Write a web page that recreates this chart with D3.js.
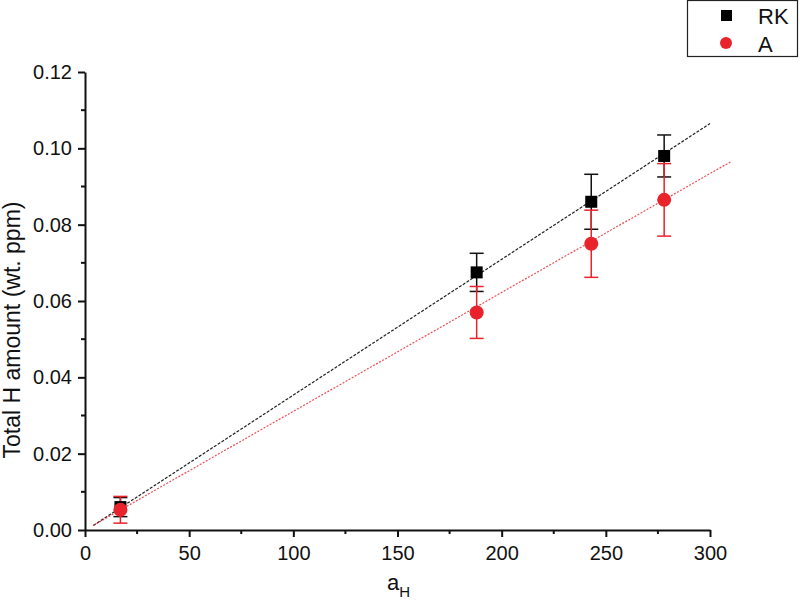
<!DOCTYPE html>
<html>
<head>
<meta charset="utf-8">
<script src="https://cdn.jsdelivr.net/npm/d3@7"></script>
<style>
body { margin: 0; background: #fff; }
text { font-family: "Liberation Sans", Arial, sans-serif; fill: #111; }
</style>
</head>
<body>
<script>
// data
var aH = [17, 188, 243, 278];
var rkVal = [0.0060, 0.0675, 0.0860, 0.0980];
var rkErr = [0.0025, 0.0050, 0.0072, 0.0055];
var aVal = [0.0053, 0.0570, 0.0750, 0.0865];
var aErr = [0.0035, 0.0068, 0.0088, 0.0095];
// fitted lines (end points)
var rkFitX = [4, 300], rkFitY = [0.0012, 0.1065];
var aFitX = [4, 310], aFitY = [0.0012, 0.0965];
var xTicks = [0, 50, 100, 150, 200, 250, 300];
var yTicks = [0, 0.02, 0.04, 0.06, 0.08, 0.10, 0.12];

var W = 800, H = 610;
var red = "#e8232b";

var svg = d3.select("body").append("svg")
  .attr("width", W)
  .attr("height", H);

var x = d3.scaleLinear().domain([0, 300]).range([85, 710]);
var y = d3.scaleLinear().domain([0, 0.12]).range([530, 72]);

// minor ticks
var xMinor = d3.range(25, 300, 50);
var yMinor = d3.range(0.01, 0.12, 0.02);

svg.append("g").selectAll("line").data(xMinor).join("line")
  .attr("x1", d => x(d)).attr("x2", d => x(d))
  .attr("y1", 530).attr("y2", 534)
  .attr("stroke", "#111").attr("stroke-width", 2);
svg.append("g").selectAll("line").data(yMinor).join("line")
  .attr("y1", d => y(d)).attr("y2", d => y(d))
  .attr("x1", 85).attr("x2", 81)
  .attr("stroke", "#111").attr("stroke-width", 2);

var xAxis = svg.append("g").attr("transform", "translate(0,530)")
  .call(d3.axisBottom(x).tickValues(xTicks).tickSize(7).tickPadding(5).tickSizeOuter(0));
var yAxis = svg.append("g").attr("transform", "translate(85,0)")
  .call(d3.axisLeft(y).tickValues(yTicks).tickFormat(d3.format(".2f")).tickSize(7).tickPadding(6).tickSizeOuter(0));

[xAxis, yAxis].forEach(function(g) {
  g.select(".domain").attr("stroke", "#111").attr("stroke-width", 2);
  g.selectAll(".tick line").attr("stroke", "#111").attr("stroke-width", 2);
  g.selectAll(".tick text").attr("font-size", 20).attr("fill", "#111")
    .style("font-family", "'Liberation Sans', Arial, sans-serif");
});
xAxis.selectAll(".tick text").attr("dy", "0.9em");

// axis titles
svg.append("text")
  .attr("transform", "translate(20,330) rotate(-90)")
  .attr("text-anchor", "middle")
  .attr("font-size", 23)
  .text("Total H amount (wt. ppm)");

var xt = svg.append("text")
  .attr("x", 387).attr("y", 590)
  .attr("font-size", 22);
xt.append("tspan").text("a");
xt.append("tspan").attr("font-size", 15).attr("dy", 7).text("H");

// fit lines
var line = d3.line().x(d => x(d[0])).y(d => y(d[1]));
svg.append("path")
  .datum(d3.zip(rkFitX, rkFitY))
  .attr("d", line)
  .attr("fill", "none").attr("stroke", "#222")
  .attr("stroke-width", 1.2).attr("stroke-dasharray", "3,1.5");
svg.append("path")
  .datum(d3.zip(aFitX, aFitY))
  .attr("d", line)
  .attr("fill", "none").attr("stroke", red)
  .attr("stroke-width", 1.2).attr("stroke-dasharray", "2,1.5")
  .attr("opacity", 0.8);

function errorBars(vals, errs, color) {
  var g = svg.append("g").attr("stroke", color).attr("stroke-width", 1.5);
  aH.forEach(function(a, i) {
    var cx = x(a);
    g.append("line").attr("x1", cx).attr("x2", cx)
      .attr("y1", y(vals[i] - errs[i])).attr("y2", y(vals[i] + errs[i]));
    [vals[i] - errs[i], vals[i] + errs[i]].forEach(function(v) {
      g.append("line").attr("x1", cx - 7).attr("x2", cx + 7)
        .attr("y1", y(v)).attr("y2", y(v));
    });
  });
}

errorBars(rkVal, rkErr, "#111");
errorBars(aVal, aErr, red);

// RK squares
svg.append("g").selectAll("rect").data(aH).join("rect")
  .attr("x", d => x(d) - 6)
  .attr("y", (d, i) => y(rkVal[i]) - 6)
  .attr("width", 12).attr("height", 12)
  .attr("fill", "#000");

// A circles
svg.append("g").selectAll("circle").data(aH).join("circle")
  .attr("cx", d => x(d))
  .attr("cy", (d, i) => y(aVal[i]))
  .attr("r", 7)
  .attr("fill", red);

// legend
var lg = svg.append("g");
lg.append("rect")
  .attr("x", 687.5).attr("y", 0.5).attr("width", 110).attr("height", 56)
  .attr("fill", "#fff").attr("stroke", "#222").attr("stroke-width", 1.2);
lg.append("rect").attr("x", 721).attr("y", 10).attr("width", 11).attr("height", 11).attr("fill", "#000");
lg.append("circle").attr("cx", 726).attr("cy", 43).attr("r", 6).attr("fill", red);
lg.append("text").attr("x", 758).attr("y", 24).attr("font-size", 22).text("RK");
lg.append("text").attr("x", 758).attr("y", 52).attr("font-size", 22).text("A");
</script>
</body>
</html>
